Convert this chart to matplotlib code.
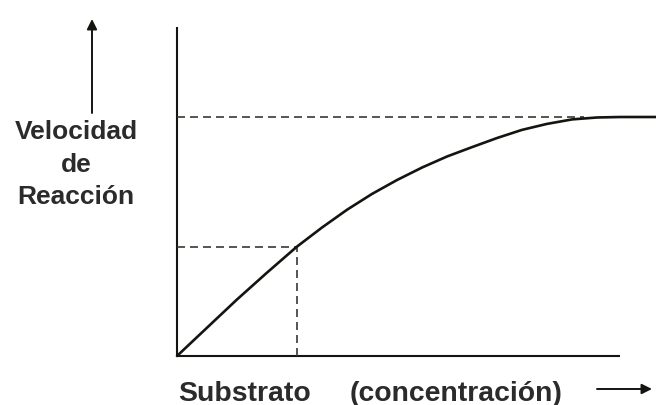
import matplotlib
matplotlib.use("Agg")
import matplotlib.pyplot as plt

# Data (arbitrary units)
substrate = [0, 0.63, 1.25, 1.88, 2.5, 3.03, 3.55, 4.07, 4.59, 5.12, 5.64, 6.16,
             6.68, 7.2, 7.72, 8.25, 8.77, 9.25, 10]
velocity = [0, 0.119, 0.236, 0.349, 0.457, 0.538, 0.612, 0.678, 0.736, 0.789, 0.835,
            0.874, 0.912, 0.946, 0.971, 0.990, 0.998, 1.0, 1.0]
vmax = 1.0
half_idx = 4          # point marked with dashed guides
vmax_reach = 8.5      # where the dashed Vmax line meets the curve
x_axis_end = 9.25
y_axis_end = 1.3766

ylabel_lines = ["Velocidad", "de", "Reacción"]
xlabel_left = "Substrato"
xlabel_right = "(concentración)"

W, H = 656, 406
fig = plt.figure(figsize=(W / 100, H / 100), dpi=100)
fig.patch.set_facecolor("white")
ax = fig.add_axes([177 / W, (H - 357) / H, 479 / W, 329 / H])
ax.set_xlim(0, 10)
ax.set_ylim(0, y_axis_end)
ax.axis("off")

ink = "#141410"
dash_col = "#3a3a32"

# axes lines
ax.plot([0, 0], [0, y_axis_end], color=ink, lw=1.5, clip_on=False, solid_capstyle="butt")
ax.plot([0, x_axis_end], [0, 0], color=ink, lw=1.5, clip_on=False, solid_capstyle="butt")

# dashed guides
ax.plot([0, vmax_reach], [vmax, vmax], color=dash_col, lw=1.2, dashes=(4.8, 3), clip_on=False)
ax.plot([0, substrate[half_idx]], [velocity[half_idx]] * 2, color=dash_col, lw=1.2,
        dashes=(4.8, 3), clip_on=False)
ax.plot([substrate[half_idx]] * 2, [0, velocity[half_idx]], color=dash_col, lw=1.2,
        dashes=(4.8, 3), clip_on=False)

# curve
ax.plot(substrate, velocity, color=ink, lw=1.9, clip_on=False,
        solid_capstyle="round", solid_joinstyle="round")

# text labels
txt_col = "#2b2b2b"
font = dict(family="Liberation Sans", weight="bold", color=txt_col)
ys = [132, 165, 197]
for s, y in zip(ylabel_lines, ys):
    fig.text(76 / W, 1 - y / H, s, ha="center", va="center", fontsize=19, **font)

fig.text(178 / W, 1 - 394 / H, xlabel_left, ha="left", va="center", fontsize=20.4, **font)
fig.text(350 / W, 1 - 394 / H, xlabel_right, ha="left", va="center", fontsize=20.4, **font)

# arrows
fig.patches.append(matplotlib.patches.FancyArrowPatch(
    (92, H - 114), (92, H - 20), transform=None, arrowstyle="-|>,head_length=6,head_width=3",
    color=ink, lw=1.4, shrinkA=0, shrinkB=0))
fig.patches.append(matplotlib.patches.FancyArrowPatch(
    (597, H - 390), (652, H - 390), transform=None, arrowstyle="-|>,head_length=6,head_width=3",
    color=ink, lw=1.4, shrinkA=0, shrinkB=0))

fig.savefig("out.png", dpi=100, facecolor="white")
